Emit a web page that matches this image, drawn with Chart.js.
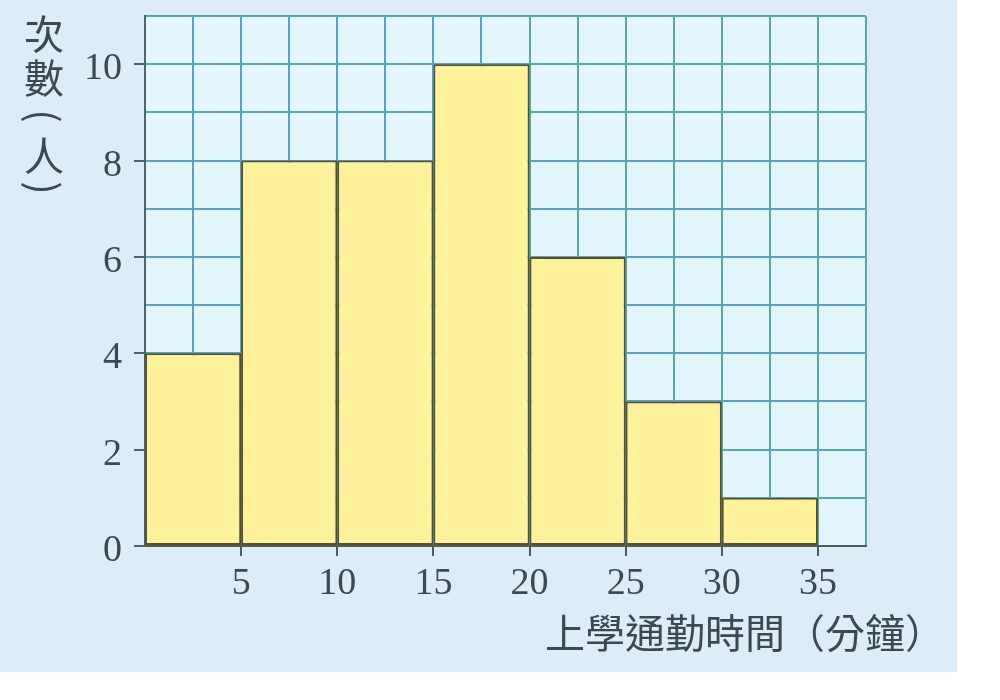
<!DOCTYPE html>
<html>
<head>
<meta charset="utf-8">
<title>上學通勤時間</title>
<script src="https://cdn.jsdelivr.net/npm/chart.js@4"></script>
<style>
  html, body { margin: 0; padding: 0; background: #fff; }
  #wrap { width: 1000px; height: 700px; position: relative; }
</style>
</head>
<body>
<div id="wrap"><canvas id="histChart"></canvas></div>
<script>
// Class intervals (minutes) and number of students in each
const classLower = [0, 5, 10, 15, 20, 25, 30];
const classUpper = [5, 10, 15, 20, 25, 30, 35];
const counts = [4, 8, 8, 10, 6, 3, 1];

// Axis labels
const xTickLabels = [5, 10, 15, 20, 25, 30, 35];
const yTickLabels = [0, 2, 4, 6, 8, 10];
const xTitle = '上學通勤時間（分鐘）';
const yTitle = ['次', '數', '(', '人', ')'];

const gridColor = '#55a5c2';
const labelColor = '#3e4852';

// Background panel, plot paper and axis titles
const paperPlugin = {
    id: 'paper',
    beforeDraw(chart) {
        const { ctx, chartArea: a } = chart;
        ctx.save();
        ctx.fillStyle = '#dcedf9';
        ctx.fillRect(0, 0, 957, 672);
        ctx.fillStyle = '#e4f6fd';
        ctx.fillRect(a.left, a.top, a.right - a.left, a.bottom - a.top);
        ctx.restore();
    },
    afterDraw(chart) {
        const ctx = chart.ctx;
        ctx.save();
        ctx.fillStyle = labelColor;
        ctx.font = '40px "Noto Sans CJK TC"';
        ctx.textBaseline = 'middle';
        ctx.textAlign = 'left';
        ctx.fillText(xTitle, 545, 633);
        // vertical y title: one character per line, brackets turned sideways
        const rows = [34, 78, 116, 156, 188];
        ctx.textAlign = 'center';
        yTitle.forEach((ch, i) => {
            ctx.save();
            ctx.translate(44, rows[i]);
            if (ch === '(' || ch === ')') ctx.rotate(Math.PI / 2);
            ctx.fillText(ch, 0, 0);
            ctx.restore();
        });
        ctx.restore();
    }
};

const ctx = document.getElementById('histChart').getContext('2d');
new Chart(ctx, {
    type: 'bar',
    data: {
        datasets: [{
            label: '次數',
            data: counts.map((c, i) => ({ x: (classLower[i] + classUpper[i]) / 2, y: c })),
            backgroundColor: '#fff29a',
            borderColor: '#57522c',
            borderWidth: 2,
            borderSkipped: false,
            // grid ticks every 2.5 min set the ruler, so a 5-min class is two steps wide
            barPercentage: 2,
            categoryPercentage: 1
        }]
    },
    options: {
        responsive: true,
        maintainAspectRatio: false,
        animation: false,
        layout: { padding: { left: 0, top: 16, right: 134, bottom: 0 } },
        plugins: {
            legend: { display: false },
            tooltip: { enabled: false }
        },
        scales: {
            x: {
                type: 'linear',
                offset: false,
                min: 0,
                max: 37.5,
                afterFit: (scale) => { scale.height = 154; scale.paddingLeft = 0; scale.paddingRight = 0; },
                border: { color: '#4f5a55', width: 2 },
                grid: {
                    offset: false,
                    color: gridColor,
                    lineWidth: 2,
                    tickLength: 10,
                    tickColor: (c) => xTickLabels.includes(c.tick && c.tick.value) ? '#4f5a55' : 'rgba(0,0,0,0)'
                },
                ticks: {
                    stepSize: 2.5,
                    autoSkip: false,
                    maxRotation: 0,
                    padding: 5,
                    color: labelColor,
                    font: { family: '"Liberation Serif"', size: 38 },
                    callback: (v) => xTickLabels.includes(v) ? String(v) : ''
                }
            },
            y: {
                min: 0,
                max: 11,
                afterFit: (scale) => { scale.width = 145; scale.paddingTop = 0; scale.paddingBottom = 0; },
                border: { color: '#4d6470', width: 2 },
                grid: {
                    color: gridColor,
                    lineWidth: 2,
                    tickLength: 11,
                    tickColor: (c) => yTickLabels.includes(c.tick && c.tick.value) ? '#4d6470' : 'rgba(0,0,0,0)'
                },
                ticks: {
                    stepSize: 1,
                    autoSkip: false,
                    padding: 12,
                    labelOffset: 5,
                    color: labelColor,
                    font: { family: '"Liberation Serif"', size: 38 },
                    callback: (v) => yTickLabels.includes(v) ? String(v) : ''
                }
            }
        }
    },
    plugins: [paperPlugin]
});
</script>
</body>
</html>
